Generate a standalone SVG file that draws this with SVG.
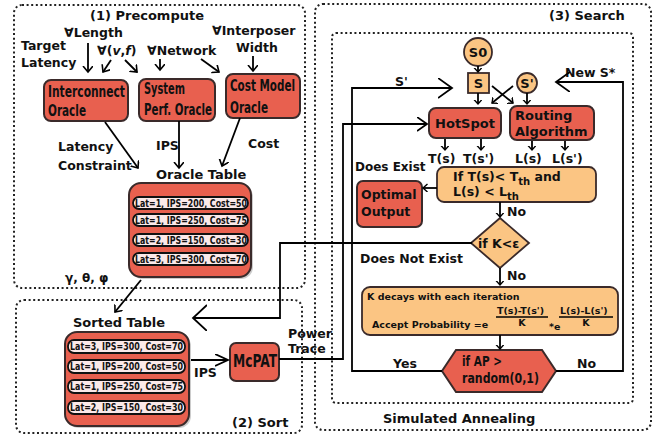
<svg xmlns="http://www.w3.org/2000/svg" width="660" height="439" viewBox="0 0 660 439">
<defs>
<style>
.frame{fill:none;stroke:#222;stroke-width:2;stroke-dasharray:2 2.6}
.ln{fill:none;stroke:#000;stroke-width:1.8}
.red{fill:#E8604F;stroke:#3a2a2a;stroke-width:2}
.org{fill:#FBC583;stroke:#3a2a2a;stroke-width:1.8}
.row{fill:#FBE9E9;stroke:#111;stroke-width:1.8}
.t{font-family:"DejaVu Sans","Verdana",sans-serif;font-weight:bold;fill:#111}
.n{font-family:"Liberation Sans Narrow","DejaVu Sans Condensed",sans-serif;font-weight:bold;fill:#111}
.r{font-family:"Liberation Sans Narrow","DejaVu Sans Condensed",sans-serif;font-weight:bold;font-size:9.6px;fill:#111}
</style>
<marker id="a" markerUnits="userSpaceOnUse" markerWidth="12" markerHeight="12" refX="6" refY="5" orient="auto"><path d="M0,0 L6,5 L0,10" fill="none" stroke="#000" stroke-width="1.6"/></marker>
<marker id="s" markerUnits="userSpaceOnUse" markerWidth="10" markerHeight="10" refX="4.5" refY="4" orient="auto"><path d="M0,0 L4.5,4 L0,8" fill="none" stroke="#000" stroke-width="1.4"/></marker>
<marker id="m" markerUnits="userSpaceOnUse" markerWidth="16" markerHeight="16" refX="13" refY="6" orient="auto"><path d="M0,0 L13,6 L0,12" fill="none" stroke="#000" stroke-width="1.8"/></marker>
<marker id="b" markerUnits="userSpaceOnUse" markerWidth="18" markerHeight="24" refX="14" refY="10" orient="auto"><path d="M0,0 L14,10 L0,20" fill="none" stroke="#000" stroke-width="1.8"/></marker>
<marker id="bs" markerUnits="userSpaceOnUse" markerWidth="14" markerHeight="18" refX="10" refY="7" orient="auto"><path d="M0,0 L10,7 L0,14" fill="none" stroke="#000" stroke-width="1.8"/></marker>
<marker id="bt" markerUnits="userSpaceOnUse" markerWidth="18" markerHeight="30" refX="14" refY="13" orient="auto"><path d="M0,0 L14,13 L0,26" fill="none" stroke="#000" stroke-width="1.8"/></marker>
</defs>
<rect width="660" height="439" fill="#fff"/>

<!-- frames -->
<g id="frames">
<rect class="frame" x="14" y="5" width="291" height="283" rx="8"/>
<rect class="frame" x="16" y="300" width="286" height="133" rx="8"/>
<rect class="frame" x="315" y="4" width="336" height="426" rx="8"/>
<rect class="frame" x="332" y="33" width="301" height="370" rx="4"/>
</g>

<!-- labels -->
<g id="labels">
<text class="t" x="90" y="20" font-size="13">(1) Precompute</text>
<text class="t" x="64" y="37" font-size="12.5">∀Length</text>
<text class="t" x="21" y="50" font-size="12.5">Target</text>
<text class="t" x="21" y="67" font-size="12.5">Latency</text>
<text class="t" x="97" y="55" font-size="12.5">∀(<tspan font-style="italic">v</tspan>,<tspan font-style="italic">f</tspan>)</text>
<text class="t" x="147" y="55" font-size="12.5">∀Network</text>
<text class="t" x="212" y="35" font-size="12.5">∀Interposer</text>
<text class="t" x="236" y="52" font-size="12.5">Width</text>
<text class="t" x="58" y="151" font-size="12.5">Latency</text>
<text class="t" x="58" y="170" font-size="12.5">Constraint</text>
<text class="t" x="156" y="150" font-size="12.5">IPS</text>
<text class="t" x="248" y="148" font-size="12.5">Cost</text>
<text class="t" x="156" y="179" font-size="13">Oracle Table</text>
<text class="t" x="65" y="282" font-size="12">γ, θ, φ</text>
<text class="t" x="73" y="327" font-size="13">Sorted Table</text>
<text class="t" x="194" y="377" font-size="12.5">IPS</text>
<text class="t" x="288" y="338" font-size="12.5">Power</text>
<text class="t" x="288" y="353" font-size="12.5">Trace</text>
<text class="t" x="232" y="427" font-size="13">(2) Sort</text>
<text class="t" x="549" y="20" font-size="13">(3) Search</text>
<text class="t" x="395" y="86" font-size="12.5">S'</text>
<text class="t" x="565" y="77" font-size="12.5">New S*</text>
<text class="t" x="428" y="163" font-size="12.5">T(s)</text>
<text class="t" x="463" y="163" font-size="12.5">T(s')</text>
<text class="t" x="515" y="163" font-size="12.5">L(s)</text>
<text class="t" x="552" y="163" font-size="12.5">L(s')</text>
<text class="t" x="355" y="171" font-size="12">Does Exist</text>
<text class="t" x="507" y="216" font-size="12.5">No</text>
<text class="t" x="360" y="263" font-size="12.5">Does Not Exist</text>
<text class="t" x="507" y="280" font-size="12.5">No</text>
<text class="t" x="393" y="368" font-size="12.5">Yes</text>
<text class="t" x="577" y="368" font-size="12.5">No</text>
<text class="t" x="383" y="423" font-size="13">Simulated Annealing</text>
</g>

<!-- nodes -->
<g id="interconnect-oracle">
<rect class="red" x="44" y="80" width="84" height="41" rx="7"/>
<text class="n" x="48" y="97" font-size="15" textLength="77" lengthAdjust="spacingAndGlyphs">Interconnect</text>
<text class="n" x="48" y="116" font-size="15" textLength="38" lengthAdjust="spacingAndGlyphs">Oracle</text>
</g>
<g id="system-perf-oracle">
<rect class="red" x="139" y="79" width="76" height="42" rx="7"/>
<text class="n" x="144" y="94" font-size="15" textLength="41" lengthAdjust="spacingAndGlyphs">System</text>
<text class="n" x="144" y="115" font-size="15" textLength="68" lengthAdjust="spacingAndGlyphs">Perf. Oracle</text>
</g>
<g id="cost-model-oracle">
<rect class="red" x="226" y="74" width="74" height="44" rx="7"/>
<text class="n" x="230" y="91" font-size="15" textLength="65" lengthAdjust="spacingAndGlyphs">Cost Model</text>
<text class="n" x="230" y="113" font-size="15" textLength="38" lengthAdjust="spacingAndGlyphs">Oracle</text>
</g>
<g id="oracle-table">
<rect x="131" y="185" width="122" height="94" rx="12" fill="#999" opacity="0.5"/>
<rect class="red" x="129" y="183" width="122" height="94" rx="12"/>
<rect class="row" x="133" y="197" width="115" height="12" rx="6"/>
<rect class="row" x="133" y="214" width="115" height="12" rx="6"/>
<rect class="row" x="133" y="234" width="115" height="12" rx="6"/>
<rect class="row" x="133" y="253" width="115" height="12" rx="6"/>
<text class="r" x="135" y="206.6" textLength="112" lengthAdjust="spacingAndGlyphs">Lat=1, IPS=200, Cost=50</text>
<text class="r" x="135" y="223.6" textLength="112" lengthAdjust="spacingAndGlyphs">Lat=1, IPS=250, Cost=75</text>
<text class="r" x="135" y="243.6" textLength="112" lengthAdjust="spacingAndGlyphs">Lat=2, IPS=150, Cost=30</text>
<text class="r" x="135" y="262.6" textLength="112" lengthAdjust="spacingAndGlyphs">Lat=3, IPS=300, Cost=70</text>
</g>
<g id="sorted-table">
<rect x="67" y="334" width="124" height="94" rx="12" fill="#999" opacity="0.5"/>
<rect class="red" x="65" y="332" width="124" height="94" rx="12"/>
<rect class="row" x="68" y="340" width="117" height="13" rx="6"/>
<rect class="row" x="68" y="360" width="117" height="13" rx="6"/>
<rect class="row" x="68" y="380" width="117" height="13" rx="6"/>
<rect class="row" x="68" y="401" width="117" height="13" rx="6"/>
<text class="r" x="70" y="350.2" textLength="113" lengthAdjust="spacingAndGlyphs">Lat=3, IPS=300, Cost=70</text>
<text class="r" x="70" y="370.2" textLength="113" lengthAdjust="spacingAndGlyphs">Lat=1, IPS=200, Cost=50</text>
<text class="r" x="70" y="390.2" textLength="113" lengthAdjust="spacingAndGlyphs">Lat=1, IPS=250, Cost=75</text>
<text class="r" x="70" y="411.2" textLength="113" lengthAdjust="spacingAndGlyphs">Lat=2, IPS=150, Cost=30</text>
</g>
<g id="mcpat">
<rect class="red" x="230" y="343" width="49" height="38" rx="6"/>
<text class="n" x="233" y="367" font-size="18" textLength="44" lengthAdjust="spacingAndGlyphs">McPAT</text>
</g>
<g id="s0">
<circle class="org" cx="478" cy="52" r="14"/>
<text class="t" x="478" y="57" font-size="13" text-anchor="middle">S0</text>
</g>
<g id="s">
<rect class="org" x="468" y="73" width="21" height="20"/>
<text class="t" x="478.5" y="88" font-size="13" text-anchor="middle">S</text>
</g>
<g id="s-prime">
<circle class="org" cx="527" cy="83" r="10"/>
<text class="t" x="527" y="88" font-size="13" text-anchor="middle">S'</text>
</g>
<g id="hotspot">
<rect class="red" x="429" y="108" width="72" height="30" rx="7"/>
<text class="t" x="465" y="128" font-size="13" text-anchor="middle">HotSpot</text>
</g>
<g id="routing">
<rect class="red" x="510" y="106" width="84" height="34" rx="7"/>
<text class="t" x="515" y="120" font-size="13">Routing</text>
<text class="t" x="515" y="136" font-size="13">Algorithm</text>
</g>
<g id="condition">
<rect class="org" x="437" y="167" width="159" height="35" rx="7"/>
<text class="t" x="453" y="181" font-size="12.5">If T(s)&lt; T<tspan font-size="10" dy="4">th</tspan><tspan dy="-4"> and</tspan></text>
<text class="t" x="453" y="196" font-size="12.5">L(s) &lt; L<tspan font-size="10" dy="4">th</tspan></text>
</g>
<g id="optimal-output">
<rect class="red" x="357" y="181" width="65" height="46" rx="6"/>
<text class="t" x="361" y="199" font-size="12.5">Optimal</text>
<text class="t" x="361" y="216" font-size="12.5">Output</text>
</g>
<g id="k-check">
<path class="org" d="M500,218 L529,243 L500,268 L471,243 Z"/>
<text class="t" x="478" y="248" font-size="12.5">if K&lt;ε</text>
</g>
<g id="accept">
<rect class="org" x="362" y="287" width="256" height="48" rx="8"/>
<text class="t" x="367" y="300" font-size="9.5">K decays with each iteration</text>
<text class="t" x="372" y="328" font-size="9.5">Accept Probability =e</text>
<text class="t" x="497" y="314" font-size="9.5">T(s)-T(s')</text>
<line x1="496" y1="317" x2="548" y2="317" stroke="#000" stroke-width="1.4"/>
<text class="t" x="522" y="326" font-size="9.5" text-anchor="middle">K</text>
<text class="t" x="549" y="330" font-size="9.5">*e</text>
<text class="t" x="560" y="314" font-size="9.5">L(s)-L(s')</text>
<line x1="559" y1="317" x2="613" y2="317" stroke="#000" stroke-width="1.4"/>
<text class="t" x="586" y="326" font-size="9.5" text-anchor="middle">K</text>
</g>
<g id="ap-check">
<path class="red" d="M442,371 L456,350 L542,350 L556,371 L542,392 L456,392 Z"/>
<text class="n" x="462" y="366" font-size="14" textLength="40" lengthAdjust="spacingAndGlyphs" style="font-family:'DejaVu Sans',sans-serif">if AP &gt;</text>
<text class="n" x="462" y="383" font-size="14" textLength="77" lengthAdjust="spacingAndGlyphs" style="font-family:'DejaVu Sans',sans-serif">random(0,1)</text>
</g>

<!-- connectors -->
<g id="connectors">
<line class="ln" x1="88" y1="43" x2="88" y2="72" marker-end="url(#a)"/>
<line class="ln" x1="111" y1="60" x2="103" y2="72" marker-end="url(#a)"/>
<line class="ln" x1="125" y1="60" x2="137" y2="72" marker-end="url(#a)"/>
<line class="ln" x1="160" y1="59" x2="160" y2="70" marker-end="url(#a)"/>
<line class="ln" x1="201" y1="59" x2="219" y2="72" marker-end="url(#a)"/>
<line class="ln" x1="253" y1="56" x2="253" y2="71" marker-end="url(#a)"/>
<line class="ln" x1="105" y1="122" x2="138" y2="168" marker-end="url(#a)"/>
<line class="ln" x1="179" y1="121" x2="179" y2="168" marker-end="url(#a)"/>
<line class="ln" x1="240" y1="118" x2="222" y2="166" marker-end="url(#a)"/>
<line class="ln" x1="141" y1="280" x2="115" y2="312" marker-end="url(#a)"/>
<line class="ln" x1="191" y1="360" x2="228" y2="360" marker-end="url(#m)"/>
<polyline class="ln" points="279,359 343,359 343,124 427,124" marker-end="url(#bs)"/>
<polyline class="ln" points="472,243 280,243 280,318 193,318" marker-end="url(#bt)"/>
<polyline class="ln" points="442,371 352,371 352,88 452,88" marker-end="url(#b)"/>
<polyline class="ln" points="556,371 623,371 623,82 556,82" marker-end="url(#b)"/>
<line class="ln" x1="478" y1="66" x2="478" y2="72" marker-end="url(#s)"/>
<line class="ln" x1="478" y1="93" x2="478" y2="104" marker-end="url(#s)"/>
<line class="ln" x1="492" y1="86" x2="513" y2="103" marker-end="url(#s)"/>
<line class="ln" x1="513" y1="86" x2="492" y2="103" marker-end="url(#s)"/>
<line class="ln" x1="527" y1="93" x2="527" y2="104" marker-end="url(#s)"/>
<line class="ln" x1="445" y1="139" x2="445" y2="150" marker-end="url(#s)"/>
<line class="ln" x1="481" y1="139" x2="481" y2="150" marker-end="url(#s)"/>
<line class="ln" x1="532" y1="141" x2="532" y2="150" marker-end="url(#s)"/>
<line class="ln" x1="565" y1="141" x2="565" y2="150" marker-end="url(#s)"/>
<line class="ln" x1="437" y1="188" x2="423" y2="188" marker-end="url(#s)"/>
<line class="ln" x1="500" y1="202" x2="500" y2="217" marker-end="url(#s)"/>
<line class="ln" x1="500" y1="268" x2="500" y2="285" marker-end="url(#s)"/>
<line class="ln" x1="500" y1="335" x2="500" y2="349" marker-end="url(#s)"/>
</g>
</svg>
